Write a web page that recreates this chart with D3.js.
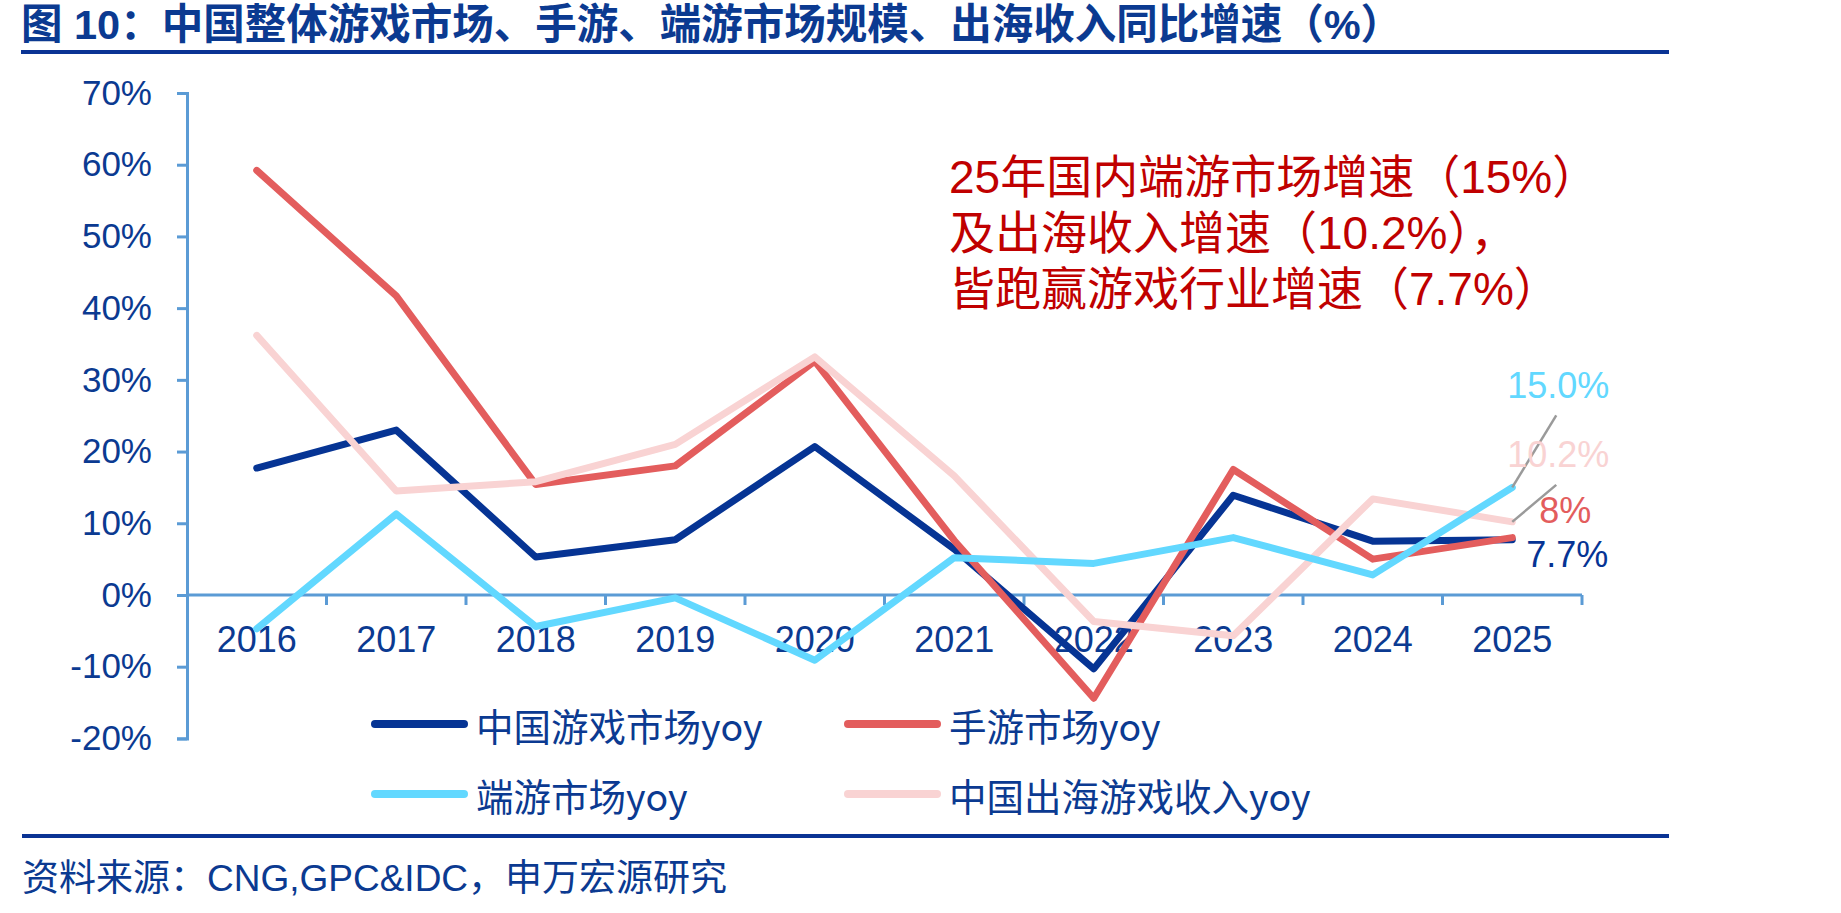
<!DOCTYPE html>
<html>
<head>
<meta charset="utf-8">
<script src="https://cdn.jsdelivr.net/npm/d3@7"></script>
<style>
  body { margin: 0; background: #fff; }
  svg { display: block; }
  text { font-family: 'Liberation Sans', 'Noto Sans CJK SC', sans-serif; }
</style>
</head>
<body>
<div id="chart"></div>
<script>
// Data (YoY growth, %)
const years = ['2016', '2017', '2018', '2019', '2020', '2021', '2022', '2023', '2024', '2025'];
const chinaGameYoy  = [17.7, 23.0, 5.3, 7.7, 20.7, 6.4, -10.3, 13.9, 7.5, 7.7];
const mobileGameYoy = [59.2, 41.7, 15.4, 18.0, 32.6, 7.6, -14.4, 17.5, 5.0, 8.0];
const clientGameYoy = [-4.7, 11.3, -4.4, -0.4, -9.1, 5.2, 4.4, 8.0, 2.8, 15.0];
const overseasYoy   = [36.2, 14.5, 15.8, 21.0, 33.2, 16.6, -3.7, -5.7, 13.4, 10.2];
const seriesNames = ['中国游戏市场yoy', '手游市场yoy', '端游市场yoy', '中国出海游戏收入yoy'];
const yTicks = [-20, -10, 0, 10, 20, 30, 40, 50, 60, 70];
const endLabels = ['7.7%', '8%', '15.0%', '10.2%'];

const titleText = '图 10：中国整体游戏市场、手游、端游市场规模、出海收入同比增速（%）';
const noteLines = ['25年国内端游市场增速（15%）', '及出海收入增速（10.2%），', '皆跑赢游戏行业增速（7.7%）'];
const sourceText = '资料来源：CNG,GPC&IDC，申万宏源研究';

// Styles
const COLORS = {
    navy: '#063494',
    red: '#E35D5D',
    cyan: '#62D8FF',
    pink: '#F9D3D3',
    text: '#0B3A91',
    axis: '#5B9BD5',
    note: '#C00000',
    leader: '#9A9A9A'
};

const W = 1841, H = 913;

const series = [
    { name: seriesNames[0], values: chinaGameYoy,  color: COLORS.navy, label: endLabels[0], dx: 14, dy: 27 },
    { name: seriesNames[1], values: mobileGameYoy, color: COLORS.red,  label: endLabels[1], dx: 27, dy: -15 },
    { name: seriesNames[2], values: clientGameYoy, color: COLORS.cyan, label: endLabels[2], dx: -5, dy: -89 },
    { name: seriesNames[3], values: overseasYoy,   color: COLORS.pink, label: endLabels[3], dx: -5, dy: -55 }
];

const svg = d3.select('#chart').append('svg')
    .attr('width', W)
    .attr('height', H);

// Title + rules
svg.append('text')
    .attr('x', 21).attr('y', 39)
    .attr('font-size', 41.5).attr('font-weight', 'bold')
    .attr('fill', COLORS.text)
    .text(titleText);

svg.append('line')
    .attr('x1', 21).attr('x2', 1669).attr('y1', 52).attr('y2', 52)
    .attr('stroke', '#0A3394').attr('stroke-width', 4);

svg.append('line')
    .attr('x1', 22).attr('x2', 1669).attr('y1', 836).attr('y2', 836)
    .attr('stroke', '#0A3394').attr('stroke-width', 4);

svg.append('text')
    .attr('x', 22).attr('y', 891)
    .attr('font-size', 37)
    .attr('fill', COLORS.text)
    .text(sourceText);

// Scales
const x = d3.scaleBand()
    .domain(years)
    .range([187, 1582]);

const y = d3.scaleLinear()
    .domain([-20, 70])
    .range([738.4, 93]);

const cx = d => x(d) + x.bandwidth() / 2;

// Y axis
const yAxis = svg.append('g')
    .attr('transform', `translate(${x.range()[0]},0)`)
    .call(d3.axisLeft(y)
        .tickValues(yTicks)
        .tickSize(10)
        .tickSizeOuter(10)
        .tickPadding(25)
        .tickFormat(d => d + '%'));

yAxis.selectAll('path, line')
    .attr('stroke', COLORS.axis)
    .attr('stroke-width', 3);
yAxis.selectAll('text')
    .attr('font-size', 35)
    .attr('fill', COLORS.text)
    .style('font-family', "'Liberation Sans', sans-serif");

// X axis (at 0%)
const y0 = y(0);
const xAxis = svg.append('g')
    .attr('transform', `translate(0,${y0})`)
    .call(d3.axisBottom(x).tickSize(0).tickPadding(31));
xAxis.select('.domain').remove();
xAxis.selectAll('text')
    .attr('font-size', 36)
    .attr('fill', COLORS.text)
    .style('font-family', "'Liberation Sans', sans-serif");

svg.append('line')
    .attr('x1', x.range()[0]).attr('x2', x.range()[1])
    .attr('y1', y0).attr('y2', y0)
    .attr('stroke', COLORS.axis).attr('stroke-width', 3);

const boundaries = years.slice(1).map(d => x(d)).concat([x.range()[1]]);
svg.selectAll('.xtick')
    .data(boundaries)
    .enter()
    .append('line')
    .attr('class', 'xtick')
    .attr('x1', d => d).attr('x2', d => d)
    .attr('y1', y0).attr('y2', y0 + 10)
    .attr('stroke', COLORS.axis).attr('stroke-width', 3);

// Lines (bottom to top: navy, red, pink, cyan)
const line = d3.line()
    .x((d, i) => cx(years[i]))
    .y(d => y(d));

const drawOrder = [0, 1, 3, 2];
drawOrder.forEach(k => {
    svg.append('path')
        .datum(series[k].values)
        .attr('fill', 'none')
        .attr('stroke', series[k].color)
        .attr('stroke-width', 7)
        .attr('stroke-linejoin', 'round')
        .attr('stroke-linecap', 'round')
        .attr('d', line);
});

// End labels with leader lines for cyan + pink
const last = years.length - 1;
const lastX = cx(years[last]);

[2, 3].forEach(k => {
    const py = y(series[k].values[last]);
    svg.append('line')
        .attr('x1', lastX).attr('y1', py)
        .attr('x2', lastX + 44).attr('y2', py - (k === 2 ? 72 : 37))
        .attr('stroke', COLORS.leader)
        .attr('stroke-width', 2.5);
});

series.forEach(s => {
    svg.append('text')
        .attr('x', lastX + s.dx)
        .attr('y', y(s.values[last]) + s.dy)
        .attr('font-size', 36)
        .attr('fill', s.color)
        .style('font-family', "'Liberation Sans', sans-serif")
        .text(s.label);
});

// Annotation
const note = svg.append('text')
    .attr('font-size', 46)
    .attr('fill', COLORS.note);
noteLines.forEach((t, i) => {
    note.append('tspan')
        .attr('x', 949)
        .attr('y', 193 + i * 56)
        .text(t);
});

// Legend
const legendPos = [
    { lx: 375, ly: 724 },
    { lx: 848, ly: 724 },
    { lx: 375, ly: 794 },
    { lx: 848, ly: 794 }
];

const legend = svg.selectAll('.legend')
    .data(series)
    .enter()
    .append('g')
    .attr('class', 'legend')
    .attr('transform', (d, i) => `translate(${legendPos[i].lx},${legendPos[i].ly})`);

legend.append('line')
    .attr('x1', 0).attr('x2', 89)
    .attr('y1', 0).attr('y2', 0)
    .attr('stroke', d => d.color)
    .attr('stroke-width', 8)
    .attr('stroke-linecap', 'round');

legend.append('text')
    .attr('x', 101)
    .attr('y', 0)
    .attr('dominant-baseline', 'central')
    .attr('font-size', 37.5)
    .attr('fill', COLORS.text)
    .style('font-family', "'Noto Sans CJK SC', sans-serif")
    .text(d => d.name);
</script>
</body>
</html>
